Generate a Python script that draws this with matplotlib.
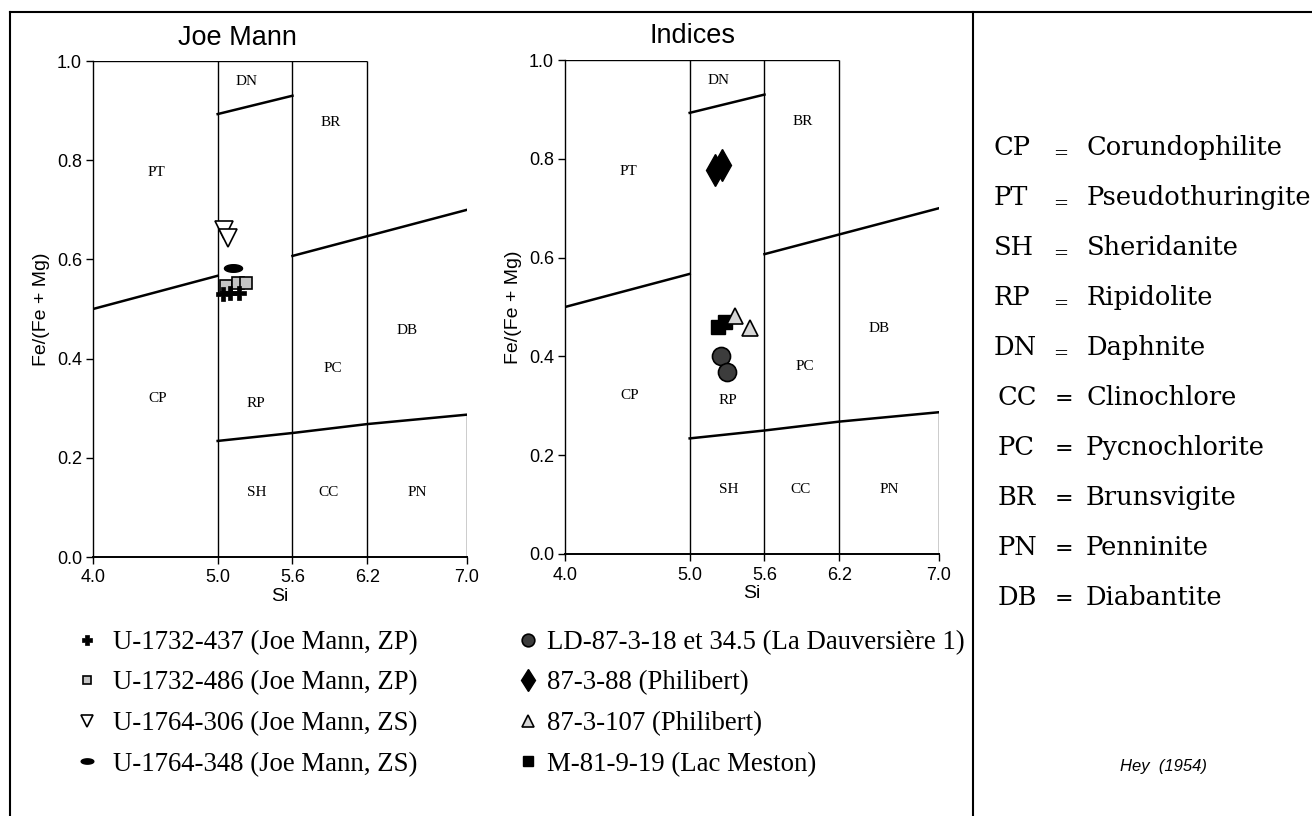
#!/usr/bin/env python
# encoding=utf-8
"""
Hey (1954) chlorite classification, Fe/(Fe + Mg) against Si,
for the Joe Mann samples and the Indices samples.
"""
import numpy as np
import matplotlib
matplotlib.use('Agg')
import matplotlib.pyplot as plt
from matplotlib.lines import Line2D
from matplotlib.path import Path

W, H = 1312, 816

# Axes ticks
SI_TICKS = [4.0, 5.0, 5.6, 6.2, 7.0]
SI_TICK_LABELS = ['4.0', '5.0', '5.6', '6.2', '7.0']
FE_TICKS = [0.0, 0.2, 0.4, 0.6, 0.8, 1.0]
FE_TICK_LABELS = ['0.0', '0.2', '0.4', '0.6', '0.8', '1.0']

# Field boundaries of the diagram (Si, Fe/(Fe+Mg))
COLUMN_SI = [5.0, 5.6, 6.2]
TOP_SI = [4.0, 6.2]
RIGHT_SI = [7.0, 7.0]
RIGHT_FE = [0.0, 0.287]
UPPER_LEFT_SI = [4.0, 5.0]
UPPER_LEFT_FE = [0.500, 0.567]
UPPER_RIGHT_SI = [5.6, 7.0]
UPPER_RIGHT_FE = [0.607, 0.700]
DN_SI = [5.0, 5.6]
DN_FE = [0.893, 0.930]
LOWER_SI = [5.0, 5.6, 6.2, 7.0]
LOWER_FE = [0.234, 0.250, 0.268, 0.287]

# Field abbreviations inside the diagram
FIELD_NAMES = ['DN', 'BR', 'PT', 'CP', 'RP', 'PC', 'DB', 'SH', 'CC', 'PN']
FIELD_SI = [5.23, 5.91, 4.51, 4.52, 5.31, 5.92, 6.52, 5.31, 5.89, 6.60]
FIELD_FE = [0.958, 0.875, 0.775, 0.320, 0.310, 0.380, 0.456, 0.130, 0.130, 0.130]

# Joe Mann samples
U1732_437_SI = [5.04, 5.10, 5.17]
U1732_437_FE = [0.530, 0.533, 0.532]
U1732_486_SI = [5.07, 5.16, 5.23]
U1732_486_FE = [0.547, 0.553, 0.553]
U1764_306_SI = [5.05, 5.08]
U1764_306_FE = [0.660, 0.643]
U1764_348_SI = [5.12]
U1764_348_FE = [0.583]

# Indices samples
LD_SI = [5.25, 5.30]
LD_FE = [0.400, 0.368]
PH88_SI = [5.20, 5.26]
PH88_FE = [0.777, 0.787]
PH107_SI = [5.36, 5.48]
PH107_FE = [0.482, 0.457]
MESTON_SI = [5.23, 5.28]
MESTON_FE = [0.460, 0.470]

# Chlorite names (Hey 1954)
ABBREV = ['CP', 'PT', 'SH', 'RP', 'DN', 'CC', 'PC', 'BR', 'PN', 'DB']
MINERALS = ['Corundophilite', 'Pseudothuringite', 'Sheridanite', 'Ripidolite',
            'Daphnite', 'Clinochlore', 'Pycnochlorite', 'Brunsvigite',
            'Penninite', 'Diabantite']

SANS = 'Liberation Sans'
SERIF = 'Liberation Serif'
WIDE_SERIF = 'DejaVu Serif'

_t = np.linspace(0, 2 * np.pi, 60)
OVAL = Path(np.column_stack([np.cos(_t), 0.42 * np.sin(_t)]), closed=True)


def fpos(x, y):
    """Pixel position (from top left) to figure fraction."""
    return x / W, 1 - y / H


def draw_diagram(ax):
    """Hey diagram frame, field boundaries and labels."""
    k = dict(color='black', lw=1.0, solid_capstyle='butt', zorder=1)
    for si in COLUMN_SI:
        ax.plot([si, si], [0, 1], **k)
    ax.plot(TOP_SI, [1, 1], **k)
    ax.plot(RIGHT_SI, RIGHT_FE, **k)
    b = dict(color='black', lw=1.8, zorder=1)
    ax.plot(UPPER_LEFT_SI, UPPER_LEFT_FE, **b)
    ax.plot(UPPER_RIGHT_SI, UPPER_RIGHT_FE, **b)
    ax.plot(DN_SI, DN_FE, **b)
    ax.plot(LOWER_SI, LOWER_FE, **b)

    for name, si, fe in zip(FIELD_NAMES, FIELD_SI, FIELD_FE):
        ax.text(si, fe, name, ha='center', va='center',
                family=SERIF, fontsize=11)

    ax.set_xlim(4.0, 7.0)
    ax.set_ylim(0.0, 1.0)
    ax.set_xticks(SI_TICKS)
    ax.set_xticklabels(SI_TICK_LABELS)
    ax.set_yticks(FE_TICKS)
    ax.set_yticklabels(FE_TICK_LABELS)
    for lab in ax.get_xticklabels() + ax.get_yticklabels():
        lab.set_family(SANS)
    ax.tick_params(direction='out', length=5, width=1, labelsize=13)
    ax.tick_params(axis='x', pad=4)
    ax.tick_params(axis='y', pad=3)
    ax.spines['top'].set_visible(False)
    ax.spines['right'].set_visible(False)
    ax.spines['left'].set_linewidth(1.0)
    ax.spines['bottom'].set_linewidth(1.4)
    ax.set_xlabel('Si', family=SANS, fontsize=14, labelpad=1)
    ax.set_ylabel('Fe/(Fe + Mg)', family=SANS, fontsize=14, labelpad=5)
    ax.patch.set_alpha(0)


def main():
    fig = plt.figure(figsize=(W / 100, H / 100), dpi=100)

    ax1 = fig.add_axes([93 / W, 1 - 557 / H, 374 / W, 496 / H])
    ax2 = fig.add_axes([565 / W, 1 - 554 / H, 374 / W, 494 / H])
    draw_diagram(ax1)
    draw_diagram(ax2)

    # Joe Mann
    ax1.plot(U1732_437_SI, U1732_437_FE, ls='none', marker='P', ms=10,
             mfc='black', mec='black', mew=0.5, zorder=4,
             label='U-1732-437 (Joe Mann, ZP)')
    ax1.plot(U1732_486_SI, U1732_486_FE, ls='none', marker='s', ms=9,
             mfc='#c4c4c4', mec='black', mew=1.2, zorder=3,
             label='U-1732-486 (Joe Mann, ZP)')
    ax1.plot(U1764_306_SI, U1764_306_FE, ls='none', marker='v', ms=13,
             mfc='white', mec='black', mew=1.2, zorder=3,
             label='U-1764-306 (Joe Mann, ZS)')
    ax1.plot(U1764_348_SI, U1764_348_FE, ls='none', marker=OVAL, ms=13,
             mfc='black', mec='black', zorder=3,
             label='U-1764-348 (Joe Mann, ZS)')

    # Indices
    ax2.plot(LD_SI, LD_FE, ls='none', marker='o', ms=13,
             mfc='#3c3c3c', mec='black', mew=1.2, zorder=3,
             label='LD-87-3-18 et 34.5 (La Dauversière 1)')
    ax2.plot(PH88_SI, PH88_FE, ls='none', marker='d', ms=16,
             mfc='black', mec='black', zorder=3,
             label='87-3-88 (Philibert)')
    ax2.plot(PH107_SI, PH107_FE, ls='none', marker='^', ms=12,
             mfc='#d6d6d6', mec='black', mew=1.2, zorder=4,
             label='87-3-107 (Philibert)')
    ax2.plot(MESTON_SI, MESTON_FE, ls='none', marker='s', ms=10,
             mfc='black', mec='black', zorder=3,
             label='M-81-9-19 (Lac Meston)')

    # Panel titles
    fig.text(*fpos(237, 45), 'Joe Mann', ha='center', va='baseline',
             family=SANS, fontsize=19.5)
    fig.text(*fpos(693, 43), 'Indices', ha='center', va='baseline',
             family=SANS, fontsize=19.5)

    # Sample legends under the diagrams
    leg_font = dict(family=SERIF, size=19.3)
    h1, l1 = ax1.get_legend_handles_labels()
    fig.legend(h1, l1, loc='upper left', bbox_to_anchor=fpos(76, 630),
               frameon=False, prop=leg_font, markerscale=0.7,
               handlelength=0.8, handletextpad=0.58, labelspacing=0.58,
               borderpad=0, borderaxespad=0)
    h2, l2 = ax2.get_legend_handles_labels()
    fig.legend(h2, l2, loc='upper left', bbox_to_anchor=fpos(517, 630),
               frameon=False, prop=leg_font, markerscale=0.7,
               handlelength=0.8, handletextpad=0.32, labelspacing=0.58,
               borderpad=0, borderaxespad=0)

    # Chlorite names on the right
    for i, (ab, name) in enumerate(zip(ABBREV, MINERALS)):
        y = 155 + 50 * i
        if i < 5:
            fig.text(*fpos(994, y), ab, va='baseline', family=WIDE_SERIF,
                     fontsize=18.5)
            fig.text(*fpos(1053, y + 4), '=', va='baseline',
                     family=WIDE_SERIF, fontsize=13)
            fig.text(*fpos(1087, y), name, va='baseline',
                     family=WIDE_SERIF, fontsize=18.5)
        else:
            fig.text(*fpos(998, y), ab, va='baseline', family=WIDE_SERIF,
                     fontsize=18.5)
            fig.text(*fpos(1055, y), '=', va='baseline',
                     family=WIDE_SERIF, fontsize=16)
            fig.text(*fpos(1086, y), name, va='baseline',
                     family=WIDE_SERIF, fontsize=18.5)

    fig.text(*fpos(1163, 767), 'Hey  (1954)', ha='center', va='center',
             family=SANS, style='italic', fontsize=12)

    # Frame of the plate
    frame = dict(color='black', lw=1.5, transform=fig.transFigure)
    fig.add_artist(Line2D([10 / W, 1], [1 - 12 / H, 1 - 12 / H], **frame))
    fig.add_artist(Line2D([10 / W, 10 / W], [0, 1 - 12 / H], **frame))
    fig.add_artist(Line2D([973 / W, 973 / W], [0, 1 - 12 / H], **frame))

    fig.savefig('out.png', dpi=100)
    plt.close(fig)


if __name__ == '__main__':
    main()
